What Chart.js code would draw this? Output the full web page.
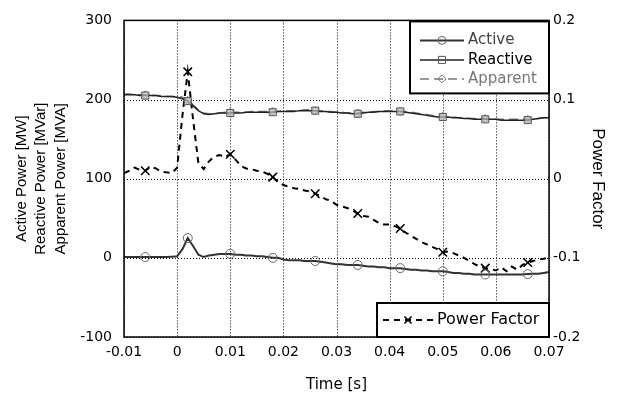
<!DOCTYPE html>
<html>
<head>
<meta charset="utf-8">
<title>Power</title>
<script src="https://cdn.jsdelivr.net/npm/chart.js@4.4.1/dist/chart.umd.min.js"></script>
<style>
  html, body { margin: 0; padding: 0; background: #fff; }
  canvas { display: block; }
</style>
</head>
<body>
<canvas id="myChart" width="619" height="396"></canvas>
<script>
// sample times [s]
const time = [
  -0.010, -0.009, -0.008, -0.007, -0.006, -0.005, -0.004, -0.003, -0.002, -0.001,
   0.000,  0.001,  0.002,  0.003,  0.004,  0.005,  0.006,  0.007,  0.008,  0.009,
   0.010,  0.011,  0.012,  0.013,  0.014,  0.015,  0.016,  0.017,  0.018,  0.019,
   0.020,  0.021,  0.022,  0.023,  0.024,  0.025,  0.026,  0.027,  0.028,  0.029,
   0.030,  0.031,  0.032,  0.033,  0.034,  0.035,  0.036,  0.037,  0.038,  0.039,
   0.040,  0.041,  0.042,  0.043,  0.044,  0.045,  0.046,  0.047,  0.048,  0.049,
   0.050,  0.051,  0.052,  0.053,  0.054,  0.055,  0.056,  0.057,  0.058,  0.059,
   0.060,  0.061,  0.062,  0.063,  0.064,  0.065,  0.066,  0.067,  0.068,  0.069,
   0.070
];

// MW
const active = [
  1, 1, 1, 1, 1, 1, 1, 1, 1, 1.5,
  2, 11, 25, 15, 4, 1, 3, 4, 5, 5,
  5, 4, 4, 3, 3, 2, 2, 1, 0, 0,
  -2, -3, -3, -3, -4, -4, -4, -5, -6, -7,
  -8, -8, -9, -9, -9, -10, -11, -11, -12, -12,
  -13, -13, -13, -14, -15, -15, -16, -16, -17, -17,
  -17, -18, -19, -19, -20, -20, -21, -21, -21, -21,
  -21, -21, -21, -21, -21, -21, -20.5, -20, -20, -19,
  -18
];

// MVar
const reactive = [
  206, 206, 206, 205, 205, 205, 205, 204, 204, 204,
  203, 201, 198, 192, 186, 182, 181, 182, 183, 183,
  183, 183, 183, 184, 184, 184, 184, 184, 184, 185,
  185, 185, 185, 186, 186, 186, 186, 185, 185, 184,
  184, 183, 183, 182, 182, 183, 184, 184, 185, 185,
  185, 185, 185, 184, 183, 182, 181, 180, 179, 178,
  178, 178, 177, 177, 176, 176, 175, 175, 175, 175,
  175, 174, 174, 174, 174, 174, 174, 175, 176, 177,
  177
];

// MVA
const apparent = [
  207, 207, 206, 206, 206, 205, 205, 205, 204, 204,
  204, 203, 199, 193, 187, 183, 182, 182, 183, 184,
  184, 184, 184, 184, 185, 185, 185, 185, 185, 185,
  186, 186, 186, 186, 187, 187, 186, 186, 185, 185,
  184, 184, 183, 183, 183, 184, 184, 185, 185, 186,
  186, 186, 185, 185, 184, 183, 182, 181, 180, 179,
  179, 178, 178, 177, 177, 176, 176, 176, 176, 175,
  175, 175, 175, 175, 175, 175, 175, 176, 176, 177,
  178
];

const powerFactor = [
  0.007, 0.010, 0.014, 0.011, 0.010, 0.015, 0.013, 0.009, 0.008, 0.007,
  0.014, 0.080, 0.135, 0.075, 0.020, 0.012, 0.022, 0.028, 0.030, 0.027,
  0.031, 0.024, 0.016, 0.013, 0.012, 0.010, 0.009, 0.006, 0.002, -0.004,
  -0.008, -0.010, -0.012, -0.013, -0.015, -0.016, -0.019, -0.022, -0.026, -0.028,
  -0.033, -0.035, -0.037, -0.040, -0.044, -0.047, -0.048, -0.052, -0.056, -0.058,
  -0.058, -0.060, -0.063, -0.068, -0.072, -0.076, -0.080, -0.083, -0.086, -0.089,
  -0.093, -0.092, -0.094, -0.097, -0.100, -0.104, -0.108, -0.111, -0.113, -0.114,
  -0.116, -0.112, -0.117, -0.111, -0.115, -0.109, -0.106, -0.104, -0.102, -0.101,
  -0.100
];

const xTicks = [-0.01, 0, 0.01, 0.02, 0.03, 0.04, 0.05, 0.06, 0.07];

function pts(ys) {
  return time.map(function(t, i) { return { x: t, y: ys[i] }; });
}

// markers every 8th sample, starting at -0.006
function markerRadius(r) {
  return function(c) { return c.dataIndex % 8 === 4 ? r : 0; };
}

function fmt(v) {
  return String(parseFloat(Number(v).toFixed(3)));
}

const hFont = 'DejaVu Sans';
const vFont = 'Liberation Sans';

// dotted grid, frame and the two legend boxes
const frameAndLegends = {
  id: 'frameAndLegends',
  beforeDatasetsDraw(chart) {
    const c = chart.ctx;
    const a = chart.chartArea;
    const xs = chart.scales.x, ys = chart.scales.y;
    c.save();
    c.strokeStyle = '#000';
    c.lineWidth = 1;
    c.setLineDash([1, 2]);
    xs.ticks.forEach(function(t) {
      const px = Math.round(xs.getPixelForValue(t.value)) + 0.5;
      c.beginPath();
      c.moveTo(px, a.top);
      c.lineTo(px, a.bottom);
      c.stroke();
    });
    ys.ticks.forEach(function(t) {
      const py = Math.round(ys.getPixelForValue(t.value)) + 0.5;
      c.beginPath();
      c.moveTo(a.left, py);
      c.lineTo(a.right, py);
      c.stroke();
    });
    c.restore();
  },
  afterDraw(chart) {
    const c = chart.ctx;
    const a = chart.chartArea;
    const sets = chart.data.datasets;
    c.save();
    c.setLineDash([]);
    c.strokeStyle = '#000';
    c.lineWidth = 1.5;
    c.strokeRect(a.left, a.top, a.right - a.left, a.bottom - a.top);

    function box(x0, y0, x1, y1) {
      c.setLineDash([]);
      c.fillStyle = '#fff';
      c.fillRect(x0, y0, x1 - x0, y1 - y0);
      c.strokeStyle = '#000';
      c.lineWidth = 2;
      c.strokeRect(x0, y0, x1 - x0, y1 - y0);
    }

    function entry(ds, x0, x1, y, tx, size) {
      c.save();
      c.strokeStyle = ds.borderColor;
      c.lineWidth = ds.borderWidth;
      c.setLineDash(ds.borderDash || []);
      c.beginPath();
      c.moveTo(x0, y);
      c.lineTo(x1, y);
      c.stroke();
      c.setLineDash([]);
      c.strokeStyle = ds.pointBorderColor;
      c.fillStyle = 'rgba(0,0,0,0)';
      c.lineWidth = ds.pointBorderWidth;
      Chart.helpers.drawPoint(c, {
        pointStyle: ds.pointStyle,
        radius: ds.legendRadius,
        borderWidth: ds.pointBorderWidth,
        rotation: 0
      }, (x0 + x1) / 2, y);
      c.fillStyle = ds.textColor;
      c.font = size + 'px "' + hFont + '"';
      c.textBaseline = 'middle';
      c.textAlign = 'left';
      c.fillText(ds.label, tx, y);
      c.restore();
    }

    // top legend
    const r = a.right;
    box(r - 139, a.top + 1, r, a.top + 73);
    entry(sets[0], r - 129, r - 85, a.top + 20, r - 81, 15);
    entry(sets[1], r - 129, r - 85, a.top + 39.5, r - 81, 15);
    entry(sets[2], r - 129, r - 85, a.top + 58.5, r - 81, 15);

    // bottom legend
    box(r - 172, a.bottom - 34, r, a.bottom);
    entry(sets[3], r - 166, r - 116, a.bottom - 17, r - 112, 16);
    c.restore();
  }
};

document.addEventListener('DOMContentLoaded', function() {
  const ctx = document.getElementById('myChart');

  new Chart(ctx, {
    type: 'line',
    data: {
      datasets: [
        {
          label: 'Active',
          data: pts(active),
          yAxisID: 'y',
          borderColor: '#333',
          borderWidth: 2,
          pointStyle: 'circle',
          pointRadius: markerRadius(4.5),
          pointBorderColor: '#666',
          pointBorderWidth: 1,
          pointBackgroundColor: 'rgba(0,0,0,0)',
          legendRadius: 4,
          textColor: '#444'
        },
        {
          label: 'Reactive',
          data: pts(reactive),
          yAxisID: 'y',
          borderColor: '#222',
          borderWidth: 1.5,
          pointStyle: 'rect',
          pointRadius: markerRadius(5),
          pointBorderColor: '#555',
          pointBorderWidth: 1,
          pointBackgroundColor: 'rgba(190,190,190,0.7)',
          legendRadius: 5,
          textColor: '#000'
        },
        {
          label: 'Apparent',
          data: pts(apparent),
          yAxisID: 'y',
          borderColor: '#777',
          borderWidth: 1.5,
          borderDash: [9, 5],
          pointStyle: 'rectRot',
          pointRadius: markerRadius(4),
          pointBorderColor: '#777',
          pointBorderWidth: 1,
          pointBackgroundColor: 'rgba(0,0,0,0)',
          legendRadius: 4,
          textColor: '#777'
        },
        {
          label: 'Power Factor',
          data: pts(powerFactor),
          yAxisID: 'y1',
          borderColor: '#000',
          borderWidth: 2,
          borderDash: [6, 5],
          pointStyle: 'crossRot',
          pointRadius: markerRadius(6),
          pointBorderColor: '#000',
          pointBorderWidth: 1.5,
          pointBackgroundColor: 'rgba(0,0,0,0)',
          legendRadius: 5,
          textColor: '#000'
        }
      ]
    },
    options: {
      responsive: false,
      animation: false,
      events: [],
      layout: { padding: { top: 18, left: 0, right: 0, bottom: 0 } },
      plugins: {
        legend: { display: false },
        tooltip: { enabled: false }
      },
      elements: { line: { tension: 0 } },
      scales: {
        x: {
          type: 'linear',
          min: -0.01,
          max: 0.07,
          afterFit: function(s) { s.height = 59; },
          afterBuildTicks: function(s) { s.ticks = xTicks.map(function(v) { return { value: v }; }); },
          grid: { display: false, drawTicks: false },
          border: { display: false },
          ticks: {
            color: '#000',
            font: { family: hFont, size: 14 },
            padding: 7,
            maxRotation: 0,
            autoSkip: false,
            callback: fmt
          },
          title: {
            display: true,
            text: 'Time [s]',
            color: '#000',
            font: { family: hFont, size: 15 },
            padding: { top: 0, bottom: 2 }
          }
        },
        y: {
          position: 'left',
          min: -100,
          max: 300,
          afterFit: function(s) { s.width = 124; },
          grid: { display: false, drawTicks: false },
          border: { display: false },
          ticks: {
            stepSize: 100,
            color: '#000',
            font: { family: hFont, size: 14 },
            padding: 12,
            callback: fmt
          },
          title: {
            display: true,
            text: ['Active Power [MW]', 'Reactive Power [MVar]', 'Apparent Power [MVA]'],
            color: '#000',
            font: { family: vFont, size: 15, lineHeight: 1.3 },
            padding: { top: 12, bottom: 0 }
          }
        },
        y1: {
          position: 'right',
          min: -0.2,
          max: 0.2,
          afterFit: function(s) { s.width = 70; },
          grid: { display: false, drawTicks: false },
          border: { display: false },
          ticks: {
            stepSize: 0.1,
            color: '#000',
            font: { family: hFont, size: 14 },
            padding: 4,
            callback: fmt
          },
          title: {
            display: true,
            text: 'Power Factor',
            color: '#000',
            font: { family: vFont, size: 17 },
            padding: { top: 11, bottom: 0 }
          }
        }
      }
    },
    plugins: [frameAndLegends]
  });
});
</script>
</body>
</html>
